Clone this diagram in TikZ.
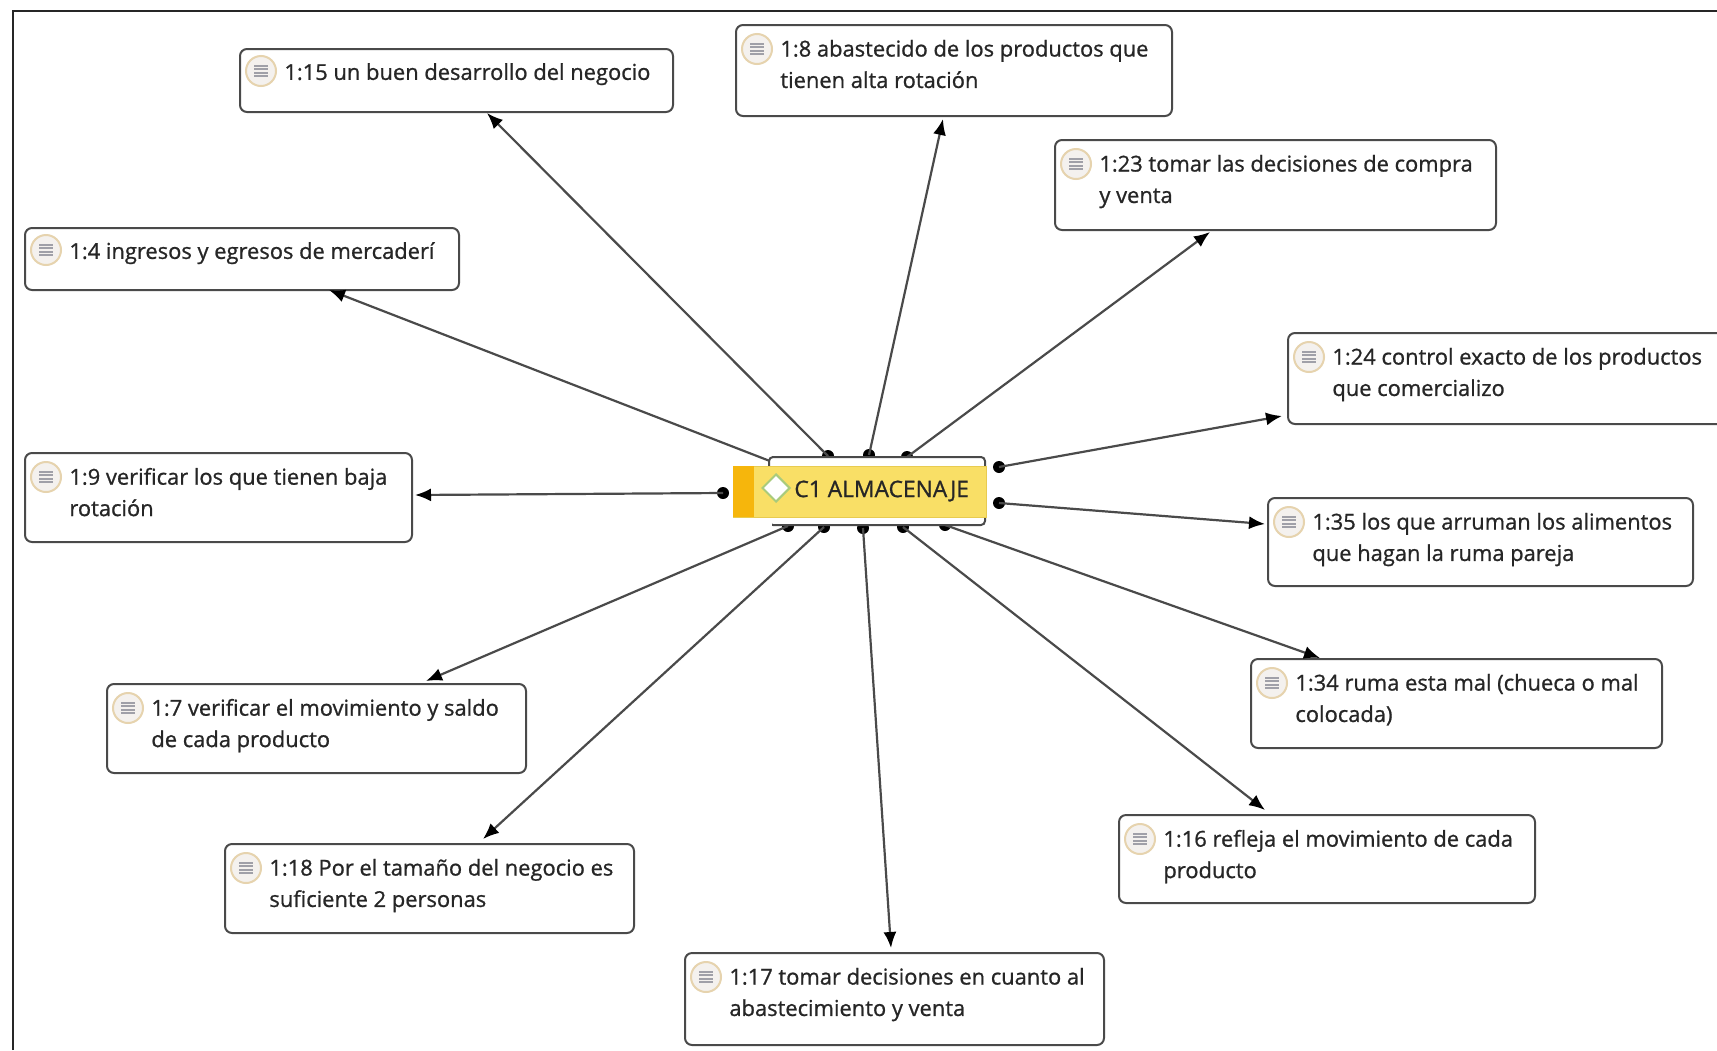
\documentclass[tikz,border=0pt]{standalone}
\usepackage{fontspec}
\setmainfont{Open Sans}[FakeBold=1.0]
\newfontfamily\notefont{Open Sans}[FakeBold=0.9]
\usetikzlibrary{arrows.meta,shapes.geometric}
\definecolor{ink}{HTML}{262626}
\definecolor{edge}{HTML}{4A4A4A}
\definecolor{noteRing}{HTML}{E6D3AE}
\definecolor{noteFill}{HTML}{F4F1EE}
\definecolor{noteMark}{HTML}{A0A0A8}
\definecolor{codeYellow}{HTML}{F9DF66}
\definecolor{codeEdge}{HTML}{E8CB50}
\definecolor{codeOrange}{HTML}{F6B60C}
\definecolor{codeGreen}{HTML}{A9CB7C}
\tikzset{
  x=0.5pt,y=-0.5pt,
  noteframe/.style={draw=edge,line width=1pt,rounded corners=3.5pt,fill=white,anchor=north west,inner sep=0pt},
  notetext/.style={anchor=north west,inner sep=0pt,align=left,text=ink,font=\notefont\fontsize{10.95pt}{15.7pt}\selectfont\strut},
  noteicon/.style={circle,draw=noteRing,line width=1pt,fill=noteFill,minimum size=15pt,inner sep=0pt},
  notemark/.style={draw=noteMark,line width=0.9pt},
  dotend/.style={circle,fill=black,minimum size=6pt,inner sep=0pt},
  link/.style={draw=edge,line width=1.1pt,-{Latex[length=8pt,width=6.5pt,black]}},
}
% optional argument: 0 for two-line boxes, 1 for one-line boxes
\newcommand{\notebox}[7][0]{%
  \pgfmathsetmacro{\boxw}{(#5-#3)*0.5}%
  \pgfmathsetmacro{\boxh}{(#6-#4)*0.5}%
  \pgfmathsetmacro{\iconoff}{25-2*#1}%
  \pgfmathsetmacro{\textoff}{15.5-6*#1}%
  \node[noteframe,minimum width=\boxw pt,minimum height=\boxh pt] (#2) at (#3,#4) {};
  \node[noteicon] (#2-icon) at ([shift={(22,\iconoff)}]#2.north west) {};
  \foreach \dy in {-5,-1.7,1.7,5}{\draw[notemark] ([shift={(-7,\dy)}]#2-icon.center) -- ([shift={(7,\dy)}]#2-icon.center);}
  \node[notetext] (#2-text) at ([shift={(45,\textoff)}]#2.north west) {#7};
}
\begin{document}
\begin{tikzpicture}
\useasboundingbox (0,0) rectangle (1717,1050);
\draw[draw=ink,line width=1pt] (13,1050) -- (13,11) -- (1717,11);

\notebox[1]{n15}{239}{48}{672}{111}{1:15 un buen desarrollo del negocio}
\notebox{n8}{735}{24}{1171}{115}{1:8 abastecido de los productos que\\tienen alta rotación}
\notebox{n23}{1054}{139}{1495}{229}{1:23 tomar las decisiones de compra\\y venta}
\notebox[1]{n4}{24}{227}{458}{289}{1:4 ingresos y egresos de mercaderí}
\notebox{n24}{1287}{332}{1724}{423}{1:24 control exacto de los productos\\que comercializo}
\notebox{n9}{24}{452}{411}{541}{1:9 verificar los que tienen baja\\rotación}
\notebox{n35}{1267}{497}{1692}{585}{1:35 los que arruman los alimentos\\que hagan la ruma pareja}
\notebox{n7}{106}{683}{525}{772}{1:7 verificar el movimiento y saldo\\de cada producto}
\notebox{n34}{1250}{658}{1661}{747}{1:34 ruma esta mal (chueca o mal\\colocada)}
\notebox{n18}{224}{843}{633}{932}{1:18 Por el tamaño del negocio es\\suficiente 2 personas}
\notebox{n16}{1118}{814}{1534}{902}{1:16 refleja el movimiento de cada\\producto}
\notebox{n17}{684}{952}{1103}{1044}{1:17 tomar decisiones en cuanto al\\abastecimiento y venta}

% free ends of the connectors
\coordinate (t15) at (487,113);
\coordinate (t8) at (943,119);
\coordinate (t23) at (1210,232);
\coordinate (t4) at (329,290);
\coordinate (t24) at (1282,416);
\coordinate (t35) at (1265,524);
\coordinate (t9) at (415,495);
\coordinate (t7) at (426,681);
\coordinate (t18) at (483,839);
\coordinate (t17) at (891,948);
\coordinate (t16) at (1265,810);
\coordinate (t34) at (1320,658);

\node[dotend] (d15) at (828,456) {};
\node[dotend] (d8) at (869,455) {};
\node[dotend] (d23) at (907,457) {};
\node[dotend] (d4) at (775,463) {};
\node[dotend] (d24) at (999,467) {};
\node[dotend] (d35) at (999,503) {};
\node[dotend] (d9) at (723,493) {};
\node[dotend] (d7) at (788,526) {};
\node[dotend] (d18) at (824,527) {};
\node[dotend] (d17) at (863,528) {};
\node[dotend] (d16) at (903,527) {};
\node[dotend] (d34) at (945,525) {};

\foreach \k in {15,8,23,4,24,35,9,7,18,17,16,34}{\draw[link] (d\k.center) -- (t\k);}

% central code node
\node[draw=edge,line width=1pt,fill=white,rounded corners=2pt,minimum width=108pt,minimum height=34pt,inner sep=0pt,anchor=north west] (cback) at (768,456) {};
\node[fill=white,draw=none,minimum width=3pt,minimum height=5pt,inner sep=0pt,anchor=north west] (cmask) at (766,518) {};
\node[fill=codeYellow,draw=codeEdge,line width=0.5pt,minimum width=126.5pt,minimum height=25.5pt,inner sep=0pt,anchor=north west] (code) at (733,466) {};
\node[fill=codeOrange,draw=none,minimum width=10.5pt,minimum height=25.5pt,inner sep=0pt,anchor=north west] (codebar) at (733,466) {};
\node[diamond,draw=codeGreen,fill=white,line width=1pt,minimum width=14pt,minimum height=14pt,inner sep=0pt] (codemark) at (776,488) {};
\node[anchor=west,inner sep=0pt,text=ink,font=\fontsize{11.4pt}{13pt}\selectfont] (codetext) at (794,491) {C1 ALMACENAJE};
\end{tikzpicture}
\end{document}
